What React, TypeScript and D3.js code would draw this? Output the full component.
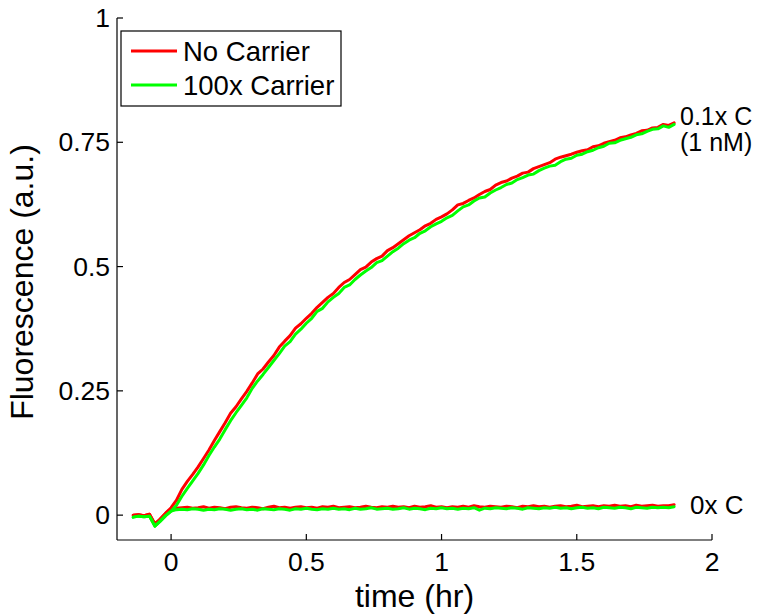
import React from "react";
import * as d3 from "d3";

const time: number[] = [
  -0.14, -0.12, -0.1, -0.08, -0.06, -0.04, -0.02, 0.0, 0.02,
  0.04, 0.06, 0.08, 0.1, 0.12, 0.14, 0.16, 0.18, 0.2, 0.22,
  0.24, 0.26, 0.28, 0.3, 0.32, 0.34, 0.36, 0.38, 0.4, 0.42,
  0.44, 0.46, 0.48, 0.5, 0.52, 0.54, 0.56, 0.58, 0.6, 0.62,
  0.64, 0.66, 0.68, 0.7, 0.72, 0.74, 0.76, 0.78, 0.8, 0.82,
  0.84, 0.86, 0.88, 0.9, 0.92, 0.94, 0.96, 0.98, 1.0, 1.02,
  1.04, 1.06, 1.08, 1.1, 1.12, 1.14, 1.16, 1.18, 1.2, 1.22,
  1.24, 1.26, 1.28, 1.3, 1.32, 1.34, 1.36, 1.38, 1.4, 1.42,
  1.44, 1.46, 1.48, 1.5, 1.52, 1.54, 1.56, 1.58, 1.6, 1.62,
  1.64, 1.66, 1.68, 1.7, 1.72, 1.74, 1.76, 1.78, 1.8, 1.82,
  1.84, 1.86,
];

// 0.1x C (1 nM), no carrier
const riseNoCarrier: number[] = [
  0.0, 0.001, -0.001, 0.002, -0.018, -0.008, 0.004, 0.015, 0.03,
  0.052, 0.068, 0.082, 0.097, 0.114, 0.131, 0.15, 0.168, 0.186, 0.205,
  0.218, 0.234, 0.249, 0.266, 0.284, 0.294, 0.308, 0.321, 0.338, 0.35,
  0.361, 0.376, 0.385, 0.396, 0.406, 0.418, 0.428, 0.438, 0.446, 0.458,
  0.468, 0.474, 0.484, 0.494, 0.499, 0.509, 0.516, 0.521, 0.532, 0.538,
  0.546, 0.554, 0.562, 0.568, 0.574, 0.582, 0.587, 0.595, 0.6, 0.606,
  0.614, 0.624, 0.627, 0.633, 0.638, 0.645, 0.651, 0.655, 0.664, 0.669,
  0.672, 0.678, 0.682, 0.688, 0.69, 0.697, 0.701, 0.705, 0.709, 0.716,
  0.72, 0.723, 0.726, 0.73, 0.733, 0.735, 0.741, 0.743, 0.748, 0.751,
  0.754, 0.759, 0.761, 0.765, 0.768, 0.773, 0.774, 0.779, 0.78, 0.786,
  0.784, 0.789,
];

// 0.1x C (1 nM), 100x carrier
const rise100xCarrier: number[] = [
  -0.004, -0.002, -0.003, -0.002, -0.022, -0.012, -0.001, 0.008, 0.02,
  0.038, 0.054, 0.069, 0.084, 0.101, 0.12, 0.137, 0.153, 0.172, 0.19,
  0.206, 0.221, 0.236, 0.255, 0.27, 0.283, 0.297, 0.311, 0.325, 0.34,
  0.349, 0.364, 0.374, 0.386, 0.396, 0.41, 0.416, 0.429, 0.438, 0.446,
  0.458, 0.463, 0.474, 0.483, 0.491, 0.498, 0.508, 0.512, 0.521, 0.53,
  0.537, 0.546, 0.553, 0.558, 0.567, 0.572, 0.58, 0.586, 0.591, 0.598,
  0.603, 0.612, 0.62, 0.624, 0.632, 0.638, 0.64, 0.648, 0.654, 0.659,
  0.665, 0.668, 0.675, 0.679, 0.684, 0.686, 0.693, 0.698, 0.702, 0.704,
  0.711, 0.716, 0.718, 0.724, 0.726, 0.731, 0.734, 0.739, 0.742, 0.748,
  0.749, 0.754, 0.757, 0.76, 0.765, 0.767, 0.772, 0.776, 0.777, 0.783,
  0.78, 0.786,
];

// 0x C, no carrier
const flatNoCarrier: number[] = [
  0.0, 0.001, -0.001, 0.002, -0.018, -0.008, 0.004, 0.012, 0.014,
  0.015, 0.016, 0.014, 0.015, 0.017, 0.014, 0.016, 0.015, 0.013, 0.016,
  0.017, 0.015, 0.014, 0.016, 0.015, 0.013, 0.016, 0.018, 0.015, 0.016,
  0.014, 0.016, 0.017, 0.015, 0.016, 0.014, 0.017, 0.016, 0.018, 0.015,
  0.016, 0.017, 0.015, 0.016, 0.018, 0.016, 0.015, 0.017, 0.016, 0.018,
  0.016, 0.017, 0.015, 0.018, 0.016, 0.017, 0.019, 0.016, 0.017, 0.015,
  0.017, 0.016, 0.018, 0.016, 0.019, 0.017, 0.016, 0.018, 0.017, 0.016,
  0.018, 0.017, 0.015, 0.018, 0.017, 0.019, 0.017, 0.018, 0.016, 0.018,
  0.019, 0.017, 0.018, 0.02, 0.017, 0.018, 0.019, 0.017, 0.019, 0.018,
  0.02, 0.018, 0.019, 0.017, 0.02, 0.018, 0.019, 0.02, 0.018, 0.019,
  0.019, 0.021,
];

// 0x C, 100x carrier
const flat100xCarrier: number[] = [
  -0.004, -0.002, -0.003, -0.002, -0.022, -0.012, -0.001, 0.008, 0.011,
  0.012, 0.011, 0.013, 0.012, 0.01, 0.012, 0.011, 0.013, 0.012, 0.01,
  0.012, 0.013, 0.011, 0.012, 0.01, 0.013, 0.012, 0.011, 0.013, 0.012,
  0.01, 0.013, 0.012, 0.014, 0.012, 0.011, 0.013, 0.012, 0.014, 0.012,
  0.013, 0.011, 0.014, 0.012, 0.013, 0.015, 0.012, 0.013, 0.014, 0.012,
  0.013, 0.015, 0.012, 0.014, 0.013, 0.011, 0.014, 0.013, 0.015, 0.013,
  0.014, 0.012, 0.014, 0.013, 0.015, 0.01, 0.014, 0.013, 0.015, 0.014,
  0.013, 0.015, 0.014, 0.012, 0.015, 0.014, 0.013, 0.015, 0.014, 0.016,
  0.014, 0.015, 0.013, 0.015, 0.016, 0.014, 0.015, 0.013, 0.016, 0.015,
  0.014, 0.016, 0.015, 0.013, 0.016, 0.015, 0.014, 0.016, 0.015, 0.016,
  0.015, 0.017,
];

const xTicks: number[] = [0, 0.5, 1, 1.5, 2];
const xTickLabels: string[] = ["0", "0.5", "1", "1.5", "2"];
const yTicks: number[] = [0, 0.25, 0.5, 0.75, 1];
const yTickLabels: string[] = ["0", "0.25", "0.5", "0.75", "1"];

const seriesNames: string[] = ["No Carrier", "100x Carrier"];
const seriesColors: string[] = ["#ff0000", "#00ff00"];

const W = 761;
const H = 614;
const FONT = "'Liberation Sans', Arial, Helvetica, sans-serif";

export default function App() {
  const x = d3.scaleLinear().domain([-0.2, 2]).range([117, 712]);
  const y = d3.scaleLinear().domain([-0.05, 1]).range([540, 18]);

  const line = d3
    .line<[number, number]>()
    .x((d) => x(d[0]))
    .y((d) => y(d[1]));

  const zip = (vals: number[]): [number, number][] =>
    time.slice(0, vals.length).map((t, i) => [t, vals[i]]);

  const curves = [
    { vals: riseNoCarrier, color: seriesColors[0] },
    { vals: flatNoCarrier, color: seriesColors[0] },
    { vals: rise100xCarrier, color: seriesColors[1] },
    { vals: flat100xCarrier, color: seriesColors[1] },
  ];

  const x0 = x.range()[0];
  const yb = y.range()[0];
  const tickLen = 6;

  return (
    <svg
      width={W}
      height={H}
      style={{ position: "absolute", left: 0, top: 0, background: "#fff" }}
      fontFamily={FONT}
    >
      <rect x={0} y={0} width={W} height={H} fill="#fff" />
      {curves.map((c, i) => (
        <path
          key={i}
          d={line(zip(c.vals)) || ""}
          fill="none"
          stroke={c.color}
          strokeWidth={3}
          strokeLinejoin="round"
          strokeLinecap="round"
        />
      ))}

      <line x1={x0} x2={x0} y1={y(1)} y2={yb} stroke="#000" strokeWidth={1.2} />
      <line x1={x0} x2={x(2)} y1={yb} y2={yb} stroke="#000" strokeWidth={1.2} />
      {yTicks.map((v, i) => (
        <g key={"yt" + i}>
          <line x1={x0} x2={x0 + tickLen} y1={y(v)} y2={y(v)} stroke="#000" strokeWidth={1.2} />
          <text
            x={x0 - 7}
            y={y(v)}
            textAnchor="end"
            dominantBaseline="central"
            fontSize={26.5}
          >
            {yTickLabels[i]}
          </text>
        </g>
      ))}
      {xTicks.map((v, i) => (
        <g key={"xt" + i}>
          <line x1={x(v)} x2={x(v)} y1={yb} y2={yb - tickLen} stroke="#000" strokeWidth={1.2} />
          <text x={x(v)} y={571} textAnchor="middle" fontSize={26.5}>
            {xTickLabels[i]}
          </text>
        </g>
      ))}

      <text x={(x0 + x(2)) / 2} y={607} textAnchor="middle" fontSize={32}>
        time (hr)
      </text>
      <text
        transform={`translate(33, ${(y(1) + yb) / 2 + 3}) rotate(-90)`}
        textAnchor="middle"
        fontSize={32}
      >
        Fluorescence (a.u.)
      </text>

      <text x={680} y={125} fontSize={25}>0.1x C</text>
      <text x={680} y={151} fontSize={25}>(1 nM)</text>
      <text x={690} y={514} fontSize={26}>0x C</text>

      <rect x={121} y={31} width={220} height={75} fill="#fff" stroke="#000" strokeWidth={1.2} />
      {seriesNames.map((n, i) => (
        <g key={"lg" + i}>
          <line
            x1={131}
            x2={177}
            y1={51 + i * 34}
            y2={51 + i * 34}
            stroke={seriesColors[i]}
            strokeWidth={3}
          />
          <text x={183} y={51 + i * 34 + 9.5} fontSize={27.5}>
            {n}
          </text>
        </g>
      ))}
    </svg>
  );
}
